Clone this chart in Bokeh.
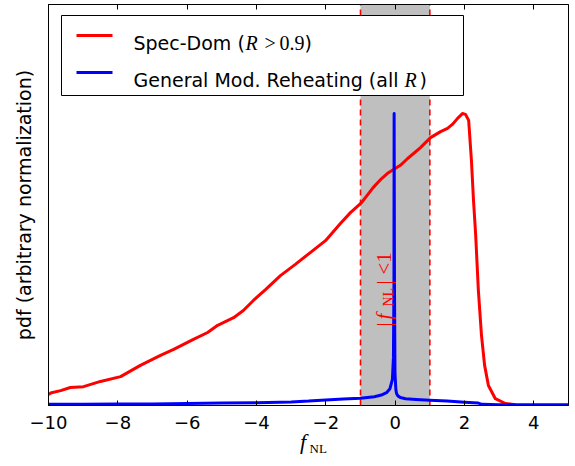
import math
from bokeh.plotting import figure
from bokeh.models import Range1d, LinearAxis, Label, FixedTicker, CustomJSTickFormatter
from bokeh.embed import file_html
from bokeh.resources import INLINE

# ---------------- data ----------------
red_x = [-10.0, -9.94, -9.65, -9.37, -8.99, -8.50, -7.92, -7.35, -6.77, -6.39, -5.82,
         -5.41, -5.12, -4.66, -4.38, -4.09, -3.74, -3.31, -2.88, -2.44, -2.01, -1.58,
         -1.29, -0.97, -0.63, -0.39, -0.22, 0.0, 0.15, 0.36, 0.73, 1.02, 1.31, 1.51,
         1.65, 1.80, 1.94, 2.03, 2.12, 2.20, 2.26, 2.32, 2.40, 2.49, 2.58, 2.69, 2.89,
         3.18, 3.47]
red_y = [0.027, 0.031, 0.037, 0.045, 0.047, 0.060, 0.072, 0.100, 0.125, 0.140, 0.165,
         0.182, 0.200, 0.219, 0.237, 0.262, 0.289, 0.324, 0.352, 0.382, 0.411, 0.454,
         0.481, 0.506, 0.544, 0.566, 0.579, 0.591, 0.599, 0.616, 0.643, 0.668, 0.683,
         0.691, 0.701, 0.716, 0.728, 0.726, 0.711, 0.611, 0.511, 0.429, 0.287, 0.175,
         0.100, 0.050, 0.017, 0.005, 0.002]

blue_x = [-10.0, -9.0, -8.0, -7.0, -6.0, -5.0, -4.0, -3.0, -2.5, -2.0, -1.5, -1.0,
          -0.6, -0.4, -0.25, -0.15, -0.08, -0.05, -0.035, -0.03, -0.02, -0.005, 0.02,
          0.04, 0.08, 0.15, 0.3, 0.6, 1.0, 1.5, 2.0, 2.4, 2.5, 3.0, 4.0, 5.0]
blue_y = [0.003, 0.003, 0.004, 0.004, 0.005, 0.006, 0.007, 0.009, 0.011, 0.014, 0.016,
          0.018, 0.022, 0.026, 0.032, 0.042, 0.065, 0.12, 0.30, 0.728, 0.30, 0.08, 0.04,
          0.03, 0.024, 0.02, 0.017, 0.015, 0.013, 0.011, 0.008, 0.006, 0.003, 0.002,
          0.002, 0.002]

band = [-1.0, 1.0]
x_ticks = [-10, -8, -6, -4, -2, 0, 2, 4]
x_tick_labels = ["\u221210", "\u22128", "\u22126", "\u22124", "\u22122", "0", "2", "4"]

# ---------------- layout helpers ----------------
FL, FR, FT, FB = 48, 568, 4, 405
W, H = 575, 466
XMIN, XMAX = -10.0, 5.0


def dx(px):
    return XMIN + (px - FL) * (XMAX - XMIN) / (FR - FL)


def dy(py):
    return (FB - py) / (FB - FT)


p = figure(frame_width=FR - FL, frame_height=FB - FT,
           x_range=Range1d(XMIN, XMAX), y_range=Range1d(0, 1),
           output_backend="svg", toolbar_location=None,
           min_border_left=FL, min_border_right=W - FR,
           min_border_top=FT, min_border_bottom=H - FB)
p.background_fill_color = "white"
p.border_fill_color = "white"
p.outline_line_color = "black"
p.outline_line_width = 1
p.xgrid.visible = False
p.ygrid.visible = False

SANS = "DejaVu Sans"
SERIF = "Liberation Serif"

# left axis: only the label
ya = p.yaxis[0]
ya.ticker = FixedTicker(ticks=[])
ya.axis_line_color = "black"
ya.axis_label = "pdf (arbitrary normalization)"
ya.axis_label_text_font = SANS
ya.axis_label_text_font_size = "19px"
ya.axis_label_text_font_style = "normal"
ya.axis_label_text_color = "black"
ya.axis_label_standoff = 14
ya.major_tick_in = 0
ya.major_tick_out = 0
ya.minor_tick_in = 0
ya.minor_tick_out = 0

ax = p.xaxis[0]
ax.ticker = FixedTicker(ticks=x_ticks)
ax.major_label_overrides = {t: s for t, s in zip(x_ticks, x_tick_labels)}
ax.major_label_text_font = SANS
ax.major_label_text_font_size = "18px"
ax.major_label_text_color = "black"
ax.major_label_standoff = 10
ax.major_tick_in = 5
ax.major_tick_out = 0
ax.minor_tick_in = 0
ax.minor_tick_out = 0
ax.axis_line_color = "black"
ax.major_tick_line_color = "black"
# x label: italic f (subscript added by a second, label-only axis)
ax.axis_label = "f\u00a0\u00a0"
ax.axis_label_text_font = SERIF
ax.axis_label_text_font_size = "22px"
ax.axis_label_text_font_style = "italic"
ax.axis_label_text_color = "black"
ax.axis_label_standoff = -3

sub = LinearAxis(ticker=FixedTicker(ticks=[]))
sub.axis_line_color = None
sub.major_tick_in = 0
sub.major_tick_out = 0
sub.minor_tick_in = 0
sub.minor_tick_out = 0
sub.axis_label = "\u00a0" * 6 + "NL"
sub.axis_label_text_font = SERIF
sub.axis_label_text_font_size = "13px"
sub.axis_label_text_font_style = "normal"
sub.axis_label_text_color = "black"
sub.axis_label_standoff = -16
p.add_layout(sub, "below")

top = LinearAxis(ticker=FixedTicker(ticks=x_ticks),
                 formatter=CustomJSTickFormatter(code="return ''"))
top.major_label_text_font_size = "1px"
top.major_label_standoff = 0
top.major_tick_in = 5
top.major_tick_out = 0
top.minor_tick_in = 0
top.minor_tick_out = 0
top.axis_line_color = "black"
p.add_layout(top, "above")

# shaded band and its dashed limits
p.quad(left=[band[0]], right=[band[1]], bottom=[0], top=[1],
       fill_color="#bfbfbf", line_color=None)
p.segment(x0=band, y0=[0, 0], x1=band, y1=[1, 1],
          line_color="#ff0000", line_width=1.6, line_dash="6 4")

# curves
p.line(red_x, red_y, line_color="#ff0000", line_width=3, line_join="round")
p.line(blue_x, blue_y, line_color="#0000ff", line_width=3, line_join="round")

# legend box (manual, to allow mixed fonts)
p.quad(left=[dx(61)], right=[dx(463)], bottom=[dy(95)], top=[dy(15)],
       fill_color="white", line_color="black", line_width=1)
p.segment(x0=[dx(76), dx(76)], y0=[dy(35), dy(72)], x1=[dx(112), dx(112)], y1=[dy(35), dy(72)],
          line_color=["#ff0000", "#0000ff"], line_width=3)


def lab(px, py, text, font=SANS, size="19px", style="normal", color="black",
        angle=0.0, align="left", baseline="alphabetic"):
    p.add_layout(Label(x=dx(px), y=dy(py), text=text, text_font=font,
                       text_font_size=size, text_font_style=style, text_color=color,
                       angle=angle, text_align=align, text_baseline=baseline))


# legend row 1
lab(133, 42, "Spec-Dom (")
lab(245, 42, "R", font=SERIF, size="20px", style="italic")
lab(264, 42, ">", font=SERIF, size="20px")
lab(279, 42, "0.9", font=SERIF, size="20px")
lab(304, 42, ")")
# legend row 2
lab(133, 79, "General Mod. Reheating (all")
lab(404, 79, "R", font=SERIF, size="20px", style="italic")
lab(419, 79, ")")

# rotated annotation in band
R = "#ff0000"
rot = math.pi / 2
lab(383, 326, "|", font=SERIF, size="21px", color=R, angle=rot)
lab(383, 319, "f", font=SERIF, size="21px", style="italic", color=R, angle=rot)
lab(388, 306, "NL", font=SERIF, size="14px", color=R, angle=rot)
lab(383, 284, "|", font=SERIF, size="21px", color=R, angle=rot)
lab(383, 274, "<1", font=SERIF, size="21px", color=R, angle=rot)

open("out.html", "w").write(file_html(p, INLINE))
